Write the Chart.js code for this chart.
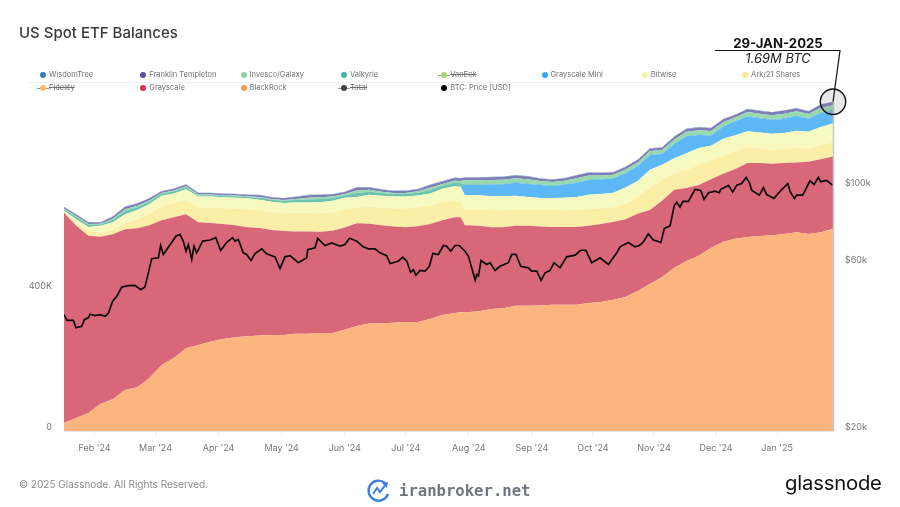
<!DOCTYPE html>
<html>
<head>
<meta charset="utf-8">
<title>US Spot ETF Balances</title>
<script src="https://cdn.jsdelivr.net/npm/chart.js@4"></script>
<style>
    html, body { margin: 0; padding: 0; background: #fff; }
    #wrap { position: relative; width: 900px; height: 507px; overflow: hidden; font-family: Inter, sans-serif; }
    canvas { position: absolute; left: 0; top: 0; }
    .txt { position: absolute; white-space: nowrap; line-height: 1; }
    #title { left: 19px; top: 24.5px; font-size: 15px; font-weight: 500; color: #3a3a3a; }
    #copy { left: 19px; top: 479px; font-size: 10px; color: #8a8a8a; }
    #brand { left: 399px; top: 482px; font: bold 15.6px "DejaVu Sans Mono", monospace; color: #6f7680; }
    #gn { left: 785px; top: 473px; font-size: 20.3px; color: #111; letter-spacing: -0.2px; }
    #date { left: 678px; width: 200px; top: 37px; text-align: center; font-size: 13.2px; font-weight: 700; color: #111; }
    #amount { left: 678px; width: 200px; top: 52px; text-align: center; font-size: 13px; font-style: italic; color: #222; }
    #logo { position: absolute; left: 366px; top: 478px; }
    .lg { position: absolute; font-size: 7.5px; line-height: 10px; color: #707070; white-space: nowrap; padding-left: 6px; }
    .lg i { position: absolute; left: -3px; top: 2px; width: 6px; height: 6px; border-radius: 50%; }
    .lg.off span { text-decoration: line-through; }
    .lg.off::before { content: ''; position: absolute; left: -6px; top: 5px; width: 12px; height: 1px; background: #999; }
</style>
</head>
<body>
<div id="wrap">
    <canvas id="etfChart" width="900" height="507"></canvas>
    <div class="txt" id="title">US Spot ETF Balances</div>
    <div class="txt" id="date">29-JAN-2025</div>
    <div class="txt" id="amount">1.69M BTC</div>
    <div class="txt" id="copy">© 2025 Glassnode. All Rights Reserved.</div>
    <svg id="logo" width="26" height="26" viewBox="0 0 26 26" fill="none">
        <path d="M19 5 A10 10 0 1 0 22 16" stroke="#3f7fe0" stroke-width="2.4"/>
        <path d="M7 16 L11 10 L14 14 L20 6" stroke="#3f7fe0" stroke-width="2"/>
        <path d="M16 5 L22 4 L21 10 Z" fill="#3f7fe0"/>
    </svg>
    <div class="txt" id="brand">iranbroker.net</div>
    <div class="txt" id="gn">glassnode</div>
</div>
<script>
// legend, in reading order
const legendNames = ['WisdomTree', 'Franklin Templeton', 'Invesco/Galaxy', 'Valkyrie', 'VanEck', 'Grayscale Mini', 'Bitwise', 'Ark/21 Shares', 'Fidelity', 'Grayscale', 'BlackRock', 'Total', 'BTC: Price [USD]'];
const legendColors = ['#2f7fc1', '#5a4fa2', '#8fd19e', '#3fb7a6', '#a6d96a', '#2fa8f5', '#f2f7a8', '#fbe98e', '#f4bf6a', '#d5324e', '#f79a55', '#444444', '#000000'];
const legendOff = ['VanEck', 'Fidelity', 'Total'];

// x axis: days since the first sample
const tickDays = [15, 45, 76, 107, 138, 168, 199, 230, 260, 290, 320.5, 350.5];
const tickLabels = ["Feb '24", "Mar '24", "Apr '24", "May '24", "Jun '24", "Jul '24", "Aug '24", "Sep '24", "Oct '24", "Nov '24", "Dec '24", "Jan '25"];
const balanceTicks = [0, 400];
const priceTicks = [20, 60, 100];

const stackDays = [0, 6, 12, 18, 24, 30, 36, 42, 48, 54, 60, 66, 72, 78, 84, 90, 96, 102, 108, 114, 120, 126, 132, 138, 144, 150, 156, 162, 168, 174, 180, 186, 192, 195, 197, 198, 204, 210, 216, 222, 228, 234, 240, 246, 252, 258, 264, 270, 276, 282, 288, 294, 300, 306, 312, 318, 324, 330, 336, 342, 348, 354, 360, 366, 372, 378];

// balances, thousand BTC
const blackRock = [23, 37, 51, 77, 90, 116, 124, 150, 187, 207, 235, 244, 253, 261, 266, 269, 271, 272, 272, 276, 276, 278, 278, 287, 298, 305, 306, 307, 309, 309, 318, 329, 335, 337, 337, 337, 340, 346, 348, 355, 355, 356, 358, 358, 358, 363, 366, 372, 380, 397, 417, 437, 463, 482, 497, 519, 537, 545, 550, 553, 555, 559, 564, 559, 564, 574];
const grayscale = [596, 545, 503, 474, 468, 456, 451, 434, 411, 399, 380, 348, 337, 326, 318, 309, 305, 298, 295, 290, 290, 287, 290, 290, 291, 283, 278, 273, 269, 272, 269, 269, 271, 269, 247, 247, 242, 232, 230, 227, 227, 224, 221, 221, 221, 219, 221, 221, 221, 219, 210, 216, 221, 207, 201, 195, 193, 198, 210, 207, 203, 201, 198, 205, 207, 205];
const ark = [3, 8, 14, 11, 11, 17, 26, 31, 40, 41, 40, 42, 44, 45, 47, 51, 51, 51, 51, 53, 53, 53, 52, 51, 44, 48, 49, 51, 53, 53, 53, 51, 47, 45, 45, 45, 47, 48, 48, 47, 45, 47, 48, 47, 48, 48, 45, 42, 42, 48, 63, 60, 48, 51, 57, 53, 51, 51, 45, 42, 40, 40, 42, 37, 40, 40];
const bitwise = [3, 11, 11, 20, 23, 26, 26, 29, 29, 27, 31, 31, 31, 31, 31, 31, 29, 29, 29, 29, 29, 31, 33, 34, 31, 34, 34, 34, 34, 34, 34, 38, 41, 42, 40, 40, 40, 40, 40, 38, 37, 34, 34, 36, 37, 40, 40, 41, 48, 45, 51, 42, 42, 48, 48, 42, 48, 45, 45, 45, 45, 45, 48, 48, 51, 53];
const grayscaleMini = [0, 0, 0, 0, 0, 0, 0, 0, 0, 0, 0, 0, 0, 0, 0, 0, 0, 0, 0, 0, 0, 0, 0, 0, 0, 0, 0, 0, 0, 0, 0, 0, 0, 0, 29, 29, 29, 33, 34, 37, 37, 37, 34, 37, 40, 42, 42, 40, 40, 42, 42, 31, 40, 48, 37, 29, 34, 40, 42, 40, 40, 40, 42, 37, 40, 37];
const valkyrie = [4, 6, 6, 4, 7, 9, 8, 7, 6, 6, 6, 4, 4, 4, 4, 4, 6, 6, 6, 7, 9, 9, 8, 7, 11, 9, 8, 7, 7, 8, 10, 9, 10, 10, 2, 2, 2, 2, 2, 2, 2, 2, 2, 2, 2, 2, 2, 2, 2, 2, 2, 2, 2, 2, 2, 2, 2, 2, 2, 2, 2, 3, 2, 2, 3, 3];
const invesco = [2, 2, 2, 2, 3, 5, 4, 3, 2, 2, 2, 2, 2, 2, 2, 2, 2, 2, 2, 3, 5, 5, 4, 3, 7, 5, 4, 3, 3, 4, 6, 5, 6, 6, 11, 11, 11, 11, 11, 11, 11, 9, 9, 9, 11, 11, 9, 9, 9, 9, 9, 9, 11, 11, 11, 11, 11, 9, 11, 11, 11, 12, 11, 11, 12, 12];
const franklin = [4, 5, 5, 4, 6, 7, 6, 6, 5, 5, 5, 4, 4, 4, 4, 4, 5, 5, 5, 6, 7, 7, 6, 6, 9, 7, 6, 6, 6, 6, 8, 7, 8, 8, 8, 8, 8, 8, 8, 8, 8, 7, 7, 7, 8, 8, 7, 7, 7, 7, 7, 7, 8, 8, 8, 8, 8, 7, 8, 8, 8, 9, 8, 8, 9, 9];
const wisdomTree = [1, 1, 1, 1, 1, 1, 1, 1, 1, 1, 1, 1, 1, 1, 1, 1, 1, 1, 1, 1, 1, 1, 1, 1, 1, 1, 1, 1, 1, 1, 1, 1, 1, 1, 1, 1, 1, 1, 1, 1, 1, 1, 1, 1, 1, 1, 1, 1, 1, 1, 1, 1, 1, 1, 1, 1, 1, 1, 1, 1, 1, 1, 1, 1, 1, 1];

// BTC price, $ thousand
const btcDays = [0, 1.5, 4.6, 5.9, 8.7, 10, 11.9, 12.8, 15.2, 17.7, 20.2, 21.8, 23.9, 25.9, 28.4, 31.6, 34.9, 37.7, 39.8, 43.1, 46.4, 47.5, 48.8, 52.9, 55.1, 57, 58.6, 60, 61.1, 62.8, 63.9, 65.2, 68.2, 71.8, 74.6, 77, 80, 82.9, 84.1, 85.7, 88.1, 89.8, 91.9, 93.9, 97.2, 99.6, 103.7, 106.2, 108.6, 111.1, 115.2, 119.3, 119.8, 123.4, 124.7, 128.3, 131.6, 135.7, 138.1, 140.1,
    140.6, 143.9, 147.1, 149.6, 152.9, 155.3, 158.6, 160.3, 164.3, 166.5, 168.5, 170.4, 171.7, 173, 175, 177.5, 179.6, 181.3, 184, 186.5, 188.1, 190.1, 192.2, 194.3, 197.1, 198.8, 200.4, 202.1, 202.9, 203.7, 205, 207.8, 209.4, 211.9, 214.3, 218.4, 220.1, 222.2, 224.5, 228.3, 229.9, 232.4, 234.5, 236.5, 238.9, 240.9, 243.8, 247.1, 251.2, 254, 256.5, 259.4, 263.5, 267.6, 271.7, 273.3, 277.4, 280.7, 282.8,
    284.6, 287.2, 289.7, 293.4, 295.1, 297.9, 300, 301.2, 302.8, 304.2, 306.9, 310.2, 313, 314.6, 316.8, 320, 322.1, 322.8, 326.6, 328.7, 330.7, 333.1, 335.3, 336.9, 338.1, 341.8, 343.8, 345.4, 349, 352, 355.8, 356.9, 359, 360.2, 363.1, 366.7, 368.7, 370.8, 372, 374.9, 377.7];
const btcPrice = [43.1, 41.5, 41.5, 39.5, 39.9, 41.7, 42.2, 43.2, 42.8, 43.1, 42.6, 43.5, 47.1, 48.6, 51.7, 52.2, 52.3, 50.8, 51.7, 62.3, 62.7, 68, 64.1, 69.4, 72.4, 73.2, 70, 65.5, 68.4, 62, 67.7, 64.8, 70, 70.5, 71.6, 65.8, 69.4, 71.6, 70, 70.8, 64.8, 64.1, 61.6, 64.5, 66.5, 64.4, 63.1, 58.4, 63.1, 63.6, 60.7, 62.7, 66.2, 67, 71.3, 68, 69.2, 67.7, 68.4, 71.1,
    71.3, 70, 67.4, 66.5, 66.5, 64.8, 63.6, 60.4, 61.3, 63, 61.3, 57, 58, 55.9, 57.7, 57.4, 59.3, 64.5, 64.1, 68, 67.7, 65.5, 68, 68, 65.5, 63.3, 58.7, 54.1, 56.2, 55.6, 61.6, 60, 60.7, 57.7, 59.3, 60.7, 64.1, 64.1, 59.3, 58.7, 57.4, 57.4, 54, 56.8, 57.7, 60.7, 58.7, 63.1, 63.8, 65.9, 65.9, 60.7, 62.7, 60, 64.8, 67.4, 69.4, 67.4, 68,
    69.4, 73.4, 70.5, 69.4, 76.1, 77.4, 88.6, 90.5, 87.6, 91, 91, 98.5, 97.8, 92.2, 96.3, 97.3, 96.3, 98.5, 101.1, 96.7, 101.3, 102.3, 106.5, 103, 97.8, 94.8, 99.6, 95.2, 92.8, 97.3, 102.3, 97.1, 92.8, 94.8, 94.8, 104.2, 101.8, 106.5, 103.6, 104.5, 101.3];

function points(days, values) {
    return days.map(function(d, i) { return { x: d, y: values[i] }; });
}

function layer(label, values, color, fill) {
    return {
        label: label,
        data: points(stackDays, values),
        yAxisID: 'y',
        backgroundColor: color,
        borderColor: color,
        borderWidth: 0,
        pointRadius: 0,
        tension: 0,
        fill: fill
    };
}

function buildLegend() {
    const wrap = document.getElementById('wrap');
    legendNames.forEach(function(name, i) {
        const el = document.createElement('div');
        el.className = 'lg' + (legendOff.includes(name) ? ' off' : '');
        el.style.left = (43 + (i % 8) * 100.3) + 'px';
        el.style.top = (i < 8 ? 70 : 82.5) + 'px';
        el.innerHTML = '<i style="background:' + legendColors[i] + '"></i><span>' + name + '</span>';
        wrap.appendChild(el);
    });
}

// faint frame lines and the callout on the last reading
const calloutPlugin = {
    id: 'callout',
    afterDraw: function(chart) {
        const ctx = chart.ctx;
        const area = chart.chartArea;
        const last = stackDays.length - 1;
        const total = [blackRock, grayscale, ark, bitwise, grayscaleMini, valkyrie, invesco, franklin, wisdomTree]
            .reduce(function(sum, s) { return sum + s[last]; }, 0);
        const cx = chart.scales.x.getPixelForValue(stackDays[last]);
        const cy = chart.scales.y.getPixelForValue(total);

        ctx.save();
        ctx.strokeStyle = '#efefef';
        ctx.lineWidth = 1;
        ctx.beginPath();
        ctx.moveTo(30, area.top + 0.5);
        ctx.lineTo(area.right, area.top + 0.5);
        ctx.stroke();

        ctx.strokeStyle = '#c9c9c9';
        ctx.lineWidth = 1.5;
        ctx.beginPath();
        ctx.moveTo(cx + 0.5, cy);
        ctx.lineTo(cx + 0.5, area.bottom);
        ctx.stroke();

        ctx.fillStyle = 'rgba(120, 120, 120, 0.16)';
        ctx.strokeStyle = '#111';
        ctx.lineWidth = 1.4;
        ctx.beginPath();
        ctx.arc(cx, cy, 12.7, 0, Math.PI * 2);
        ctx.fill();
        ctx.stroke();

        ctx.lineWidth = 1.2;
        ctx.beginPath();
        ctx.moveTo(715, 50.5);
        ctx.lineTo(840, 50.5);
        ctx.lineTo(cx, cy);
        ctx.stroke();
        ctx.restore();
    }
};

buildLegend();

new Chart(document.getElementById('etfChart').getContext('2d'), {
    type: 'line',
    plugins: [calloutPlugin],
    data: {
        datasets: [
            {
                label: 'BTC: Price [USD]',
                data: points(btcDays, btcPrice),
                yAxisID: 'yPrice',
                borderColor: '#0b0b0b',
                borderWidth: 1.7,
                pointRadius: 0,
                tension: 0,
                fill: false,
                order: -1
            },
            layer('BlackRock', blackRock, '#fdb57f', 'origin'),
            layer('Grayscale', grayscale, '#d9677a', '-1'),
            layer('Ark/21 Shares', ark, '#fbeea7', '-1'),
            layer('Bitwise', bitwise, '#f7f9c1', '-1'),
            layer('Grayscale Mini', grayscaleMini, '#5cb8f7', '-1'),
            layer('Valkyrie', valkyrie, '#6cc4ae', '-1'),
            layer('Invesco/Galaxy', invesco, '#98d8ae', '-1'),
            layer('Franklin Templeton', franklin, '#7f7fb8', '-1'),
            layer('WisdomTree', wisdomTree, '#6d90c4', '-1')
        ]
    },
    options: {
        responsive: false,
        animation: false,
        layout: { padding: { top: 82, left: 0, right: 0, bottom: 0 } },
        plugins: {
            legend: { display: false },
            tooltip: { enabled: false }
        },
        scales: {
            x: {
                type: 'linear',
                min: 0,
                max: 378,
                afterBuildTicks: function(scale) {
                    scale.ticks = tickDays.map(function(v) { return { value: v }; });
                },
                afterFit: function(scale) { scale.height = 76; },
                grid: { drawOnChartArea: false, color: '#eeeeee', tickLength: 6 },
                border: { color: '#e6e6e6' },
                ticks: {
                    autoSkip: false,
                    maxRotation: 0,
                    padding: 6,
                    color: '#777777',
                    font: { family: 'Inter', size: 9 },
                    callback: function(value, index) { return tickLabels[index]; }
                }
            },
            y: {
                stacked: true,
                position: 'left',
                min: 0,
                max: 990,
                afterBuildTicks: function(scale) {
                    scale.ticks = balanceTicks.map(function(v) { return { value: v }; });
                },
                afterFit: function(scale) { scale.width = 64; },
                grid: { display: false },
                border: { display: false },
                ticks: {
                    padding: 4,
                    labelOffset: -4,
                    color: '#777777',
                    font: { family: 'Inter', size: 9 },
                    callback: function(value) { return value === 0 ? '0' : value + 'K'; }
                }
            },
            yPrice: {
                type: 'logarithmic',
                position: 'right',
                min: 20,
                max: 200,
                afterBuildTicks: function(scale) {
                    scale.ticks = priceTicks.map(function(v) { return { value: v }; });
                },
                afterFit: function(scale) { scale.width = 67; },
                grid: { display: false },
                border: { display: false },
                ticks: {
                    padding: 4,
                    labelOffset: -4,
                    color: '#777777',
                    font: { family: 'Inter', size: 9 },
                    callback: function(value) { return '$' + value + 'k'; }
                }
            }
        }
    }
});
</script>
</body>
</html>
